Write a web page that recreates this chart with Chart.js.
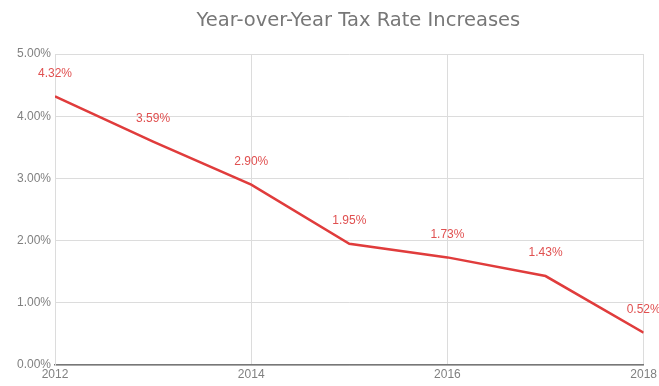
<!DOCTYPE html>
<html>
<head>
<meta charset="utf-8">
<script src="https://cdn.jsdelivr.net/npm/chart.js@4"></script>
<style>
  html, body { margin: 0; padding: 0; background: #fff; }
  #wrap { width: 659px; height: 386px; }
</style>
</head>
<body>
<div id="wrap"><canvas id="tax-Rate-Chart"></canvas></div>
<script>
// data
const years = [2012, 2013, 2014, 2015, 2016, 2017, 2018];
const rates = [4.32, 3.59, 2.90, 1.95, 1.73, 1.43, 0.52];
const xTicks = [2012, 2014, 2016, 2018];
const yTicks = [0, 1, 2, 3, 4, 5];
const chartTitle = 'Year-over-Year Tax Rate Increases';

const lineColor = '#e03c3c';

// label di atas titik
const pointLabels = {
    id: 'pointLabels',
    afterDatasetsDraw(chart) {
        const ctx = chart.ctx;
        const meta = chart.getDatasetMeta(0);
        ctx.save();
        ctx.font = '12px "Liberation Sans", Arial, sans-serif';
        ctx.fillStyle = '#e05050';
        ctx.textAlign = 'center';
        ctx.textBaseline = 'middle';
        meta.data.forEach((pt, i) => {
            ctx.fillText(rates[i].toFixed(2) + '%', pt.x, pt.y - 23);
        });
        ctx.restore();
    }
};

// judul, digambar sendiri supaya posisinya pas
const titleText = {
    id: 'titleText',
    afterDraw(chart) {
        const ctx = chart.ctx;
        const area = chart.chartArea;
        ctx.save();
        ctx.font = '19.5px "DejaVu Sans", Verdana, sans-serif';
        ctx.fillStyle = '#777';
        ctx.textAlign = 'center';
        ctx.textBaseline = 'middle';
        ctx.fillText(chartTitle, (area.left + area.right) / 2 + 9, 21);
        ctx.restore();
    }
};

const ctx = document.getElementById('tax-Rate-Chart').getContext('2d');
new Chart(ctx, {
    type: 'line',
    data: {
        datasets: [{
            data: years.map((y, i) => ({ x: y, y: rates[i] })),
            borderColor: lineColor,
            borderWidth: 2.5,
            pointRadius: 0,
            tension: 0,
            fill: false
        }]
    },
    plugins: [pointLabels, titleText],
    options: {
        responsive: true,
        maintainAspectRatio: false,
        animation: false,
        layout: { padding: { left: 0, right: 14, top: 54, bottom: 0 } },
        plugins: {
            legend: { display: false },
            tooltip: { enabled: false },
            title: { display: false }
        },
        scales: {
            x: {
                type: 'linear',
                min: 2012,
                max: 2018,
                afterBuildTicks: scale => { scale.ticks = xTicks.map(v => ({ value: v })); },
                afterFit: scale => { scale.height = 21; },
                ticks: {
                    callback: v => String(v),
                    color: '#808080',
                    font: { family: '"Liberation Sans", Arial, sans-serif', size: 12 },
                    padding: 2,
                    maxRotation: 0
                },
                grid: { color: '#dcdcdc', drawTicks: false },
                border: { color: '#777', width: 1.5 }
            },
            y: {
                min: 0,
                max: 5,
                afterBuildTicks: scale => { scale.ticks = yTicks.map(v => ({ value: v })); },
                afterFit: scale => { scale.width = 55; },
                ticks: {
                    callback: v => v.toFixed(2) + '%',
                    color: '#808080',
                    font: { family: '"Liberation Sans", Arial, sans-serif', size: 12 },
                    padding: 4
                },
                grid: { color: '#dcdcdc', drawTicks: false },
                border: { color: '#dcdcdc' }
            }
        }
    }
});
</script>
</body>
</html>
